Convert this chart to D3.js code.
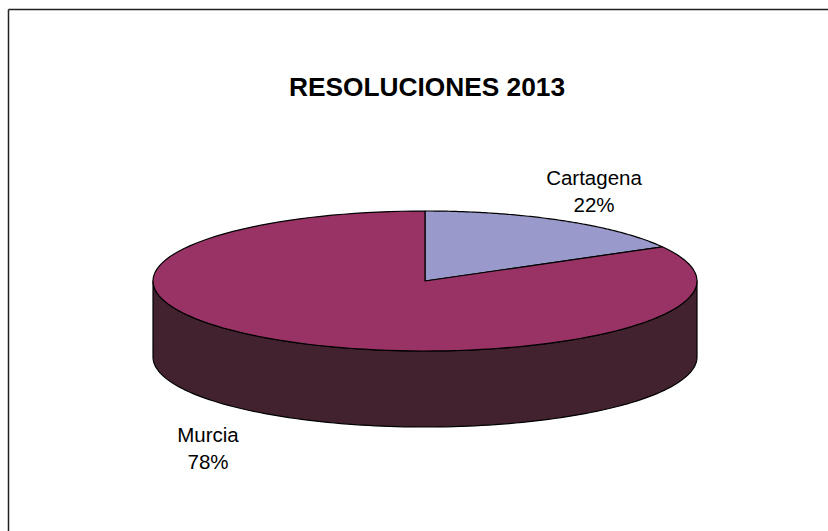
<!DOCTYPE html>
<html>
<head>
<meta charset="utf-8">
<script src="https://cdn.jsdelivr.net/npm/d3@7"></script>
<style>
  html, body { margin: 0; padding: 0; background: #fff; }
  svg { display: block; }
</style>
</head>
<body>
<svg id="chart" width="828" height="531"></svg>
<script>
const title = "RESOLUCIONES 2013";
const categories = ["Cartagena", "Murcia"];
const values = [22, 78];
const topColors = ["#9999cc", "#993366"];
const sideColors = ["#4a4a66", "#42222f"];

const W = 828, H = 531;
const cx = 425, cy = 281, rx = 272, ry = 70, depth = 76;
const skew = 0.341; // Excel 3D angular distortion

const svg = d3.select("#chart");

// frame (top and left edges visible)
svg.append("line").attr("x1", 8.5).attr("y1", 9.5).attr("x2", W).attr("y2", 9.5)
  .attr("stroke", "#222").attr("stroke-width", 1.5);
svg.append("line").attr("x1", 8.5).attr("y1", 9.5).attr("x2", 8.5).attr("y2", H)
  .attr("stroke", "#222").attr("stroke-width", 1.5);

svg.append("text")
  .attr("x", 427).attr("y", 95.5)
  .attr("text-anchor", "middle")
  .attr("font-family", "Liberation Sans, Arial, sans-serif")
  .attr("font-weight", "bold")
  .attr("font-size", 26.3)
  .attr("fill", "#000")
  .text(title);

const data = categories.map((c, i) => ({ name: c, value: values[i], i }));
const pie = d3.pie().sort(null).value(d => d.value);
const arcs = pie(data);

// map data angle to the ellipse parameter
function unwrap(a) {
  let t = Math.atan2(skew * Math.sin(a), Math.cos(a));
  if (t < 0) t += 2 * Math.PI;
  if (a >= 2 * Math.PI - 1e-9) t = 2 * Math.PI;
  return t;
}
function pt(t, dy = 0) {
  return [cx + rx * Math.sin(t), cy - ry * Math.cos(t) + dy];
}
function ellArc(t0, t1, dy, n = 120) {
  const pts = [];
  for (let k = 0; k <= n; k++) {
    const t = t0 + (t1 - t0) * k / n;
    pts.push(pt(t, dy));
  }
  return pts;
}
const line = d3.line();

// sides (visible front half: t in [PI/2, 3PI/2])
arcs.forEach(a => {
  const t0 = unwrap(a.startAngle), t1 = unwrap(a.endAngle);
  const s = Math.max(t0, Math.PI / 2), e = Math.min(t1, 3 * Math.PI / 2);
  if (e > s) {
    const top = ellArc(s, e, 0);
    const bot = ellArc(e, s, depth);
    svg.append("path")
      .attr("d", line(top.concat(bot)) + "Z")
      .attr("fill", sideColors[a.data.i])
      .attr("stroke", "#000").attr("stroke-width", 1.2)
      .attr("stroke-linejoin", "round");
  }
});

// top faces
arcs.forEach(a => {
  const t0 = unwrap(a.startAngle), t1 = unwrap(a.endAngle);
  const pts = [[cx, cy]].concat(ellArc(t0, t1, 0));
  svg.append("path")
    .attr("d", line(pts) + "Z")
    .attr("fill", topColors[a.data.i])
    .attr("stroke", "#000").attr("stroke-width", 1.2)
    .attr("stroke-linejoin", "round");
});

// labels
const total = d3.sum(values);
const labelPos = { "Cartagena": [594, 184.5], "Murcia": [208, 442] };
data.forEach(d => {
  const [x, y] = labelPos[d.name];
  const g = svg.append("text")
    .attr("text-anchor", "middle")
    .attr("font-family", "Liberation Sans, Arial, sans-serif")
    .attr("font-size", 20.5)
    .attr("fill", "#000");
  g.append("tspan").attr("x", x).attr("y", y).text(d.name);
  g.append("tspan").attr("x", x).attr("y", y + 27)
    .text(Math.round(d.value / total * 100) + "%");
});
</script>
</body>
</html>
